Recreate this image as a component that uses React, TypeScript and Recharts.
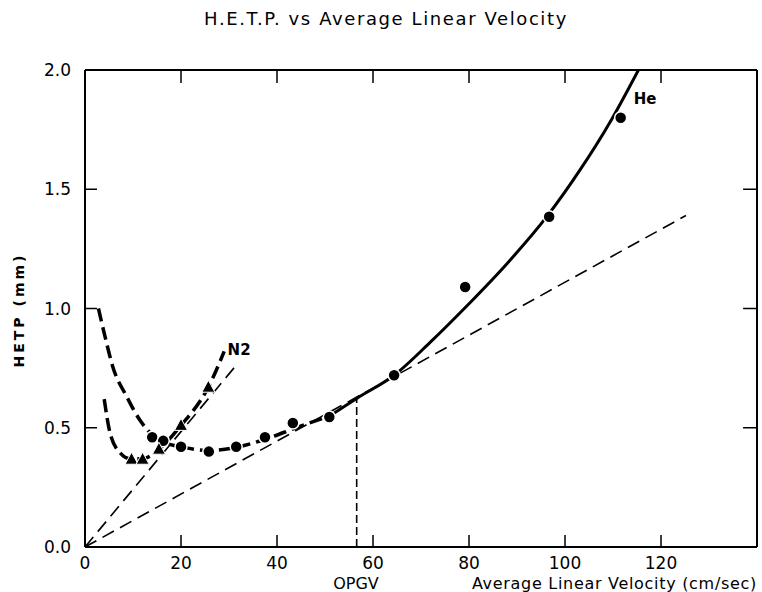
import React from 'react';
import { ComposedChart, Line, Scatter, XAxis, YAxis, ReferenceDot, ReferenceLine } from 'recharts';

const FONT = '"DejaVu Sans", Verdana, sans-serif';

const xTicks = [0, 20, 40, 60, 80, 100, 120];
const yTicks = [0, 0.5, 1.0, 1.5, 2.0];
const xMax = 140;
const yMax = 2;

// measured points
const heVelocity = [14, 16.3, 20, 25.8, 31.5, 37.5, 43.3, 50.9, 64.4, 79.2, 96.7, 111.6];
const heHetp = [0.46, 0.445, 0.42, 0.4, 0.42, 0.46, 0.52, 0.545, 0.72, 1.09, 1.385, 1.8];

const n2Velocity = [9.7, 12.0, 15.4, 20.0, 25.7];
const n2Hetp = [0.368, 0.368, 0.41, 0.51, 0.67];

// hand drawn curves
const heLowX = [2.8, 4.2, 5.8, 8.7, 11.5, 14, 17, 20, 26, 32, 38, 44, 51];
const heLowY = [1.0, 0.88, 0.755, 0.63, 0.53, 0.47, 0.435, 0.42, 0.405, 0.42, 0.455, 0.5, 0.55];
const heHighX = [51, 56.6, 64.4, 72, 80, 88, 96.2, 103.1, 109.8, 115.3];
const heHighY = [0.55, 0.623, 0.72, 0.86, 1.02, 1.19, 1.385, 1.58, 1.796, 2.0];

const n2CurveX = [4.0, 5.2, 7.3, 9.4, 12.0, 15.4, 20.0, 25.7, 29.0];
const n2CurveY = [0.62, 0.48, 0.395, 0.37, 0.37, 0.41, 0.51, 0.67, 0.82];

// straight construction lines
const n2AsymX = [0, 31.25];
const n2AsymY = [0, 0.756];
const heAsymX = [0, 125.2];
const heAsymY = [0, 1.39];
const opgvX = [56.6, 56.6];
const opgvY = [0, 0.623];

const zip = (xs: number[], ys: number[]) => xs.map((x, i) => ({ x, y: ys[i] }));

// inward tick lengths in data units (13px tall, 14px wide)
const topTickLen = 0.055;
const rightTickLen = 2.9;

const BottomTick = (p: any) => (
  <g>
    <line x1={p.x} x2={p.x} y1={p.y} y2={p.y - 12} stroke="#000" strokeWidth={1.5} />
    <text x={p.x} y={p.y + 22} textAnchor="middle" fontSize={17} fontFamily={FONT} fill="#000">
      {p.payload.value}
    </text>
  </g>
);

const LeftTick = (p: any) => {
  const v = p.payload.value;
  return (
    <g>
      {v > 0 && v < 2 && (
        <line x1={p.x} x2={p.x + 12} y1={p.y} y2={p.y} stroke="#000" strokeWidth={1.5} />
      )}
      <text x={p.x - 14} y={p.y + 6} textAnchor="end" fontSize={17} fontFamily={FONT} fill="#000">
        {v.toFixed(1)}
      </text>
    </g>
  );
};

const Dot = (p: any) => <circle cx={p.cx} cy={p.cy} r={6} fill="#000" stroke="#fff" strokeWidth={1.5} />;
const Tri = (p: any) => (
  <polygon
    points={`${p.cx},${p.cy - 7} ${p.cx - 6.5},${p.cy + 5} ${p.cx + 6.5},${p.cy + 5}`}
    fill="#000"
    stroke="#fff"
    strokeWidth={1}
  />
);

const axisStyle = { stroke: '#000', strokeWidth: 2 };

export default function App() {
  return (
    <div style={{ position: 'absolute', left: 0, top: 0, width: 762, height: 592, background: '#fff' }}>
      <ComposedChart width={762} height={592} margin={{ top: 70, right: 5, bottom: 0, left: 0 }}>
        <XAxis
          type="number"
          dataKey="x"
          domain={[0, xMax]}
          ticks={xTicks}
          interval={0}
          allowDataOverflow
          height={45}
          tickSize={0}
          tickMargin={0}
          tickLine={false}
          axisLine={axisStyle}
          tick={BottomTick}
        />
        <YAxis
          type="number"
          dataKey="y"
          domain={[0, yMax]}
          ticks={yTicks}
          interval={0}
          allowDataOverflow
          width={85}
          tickSize={0}
          tickMargin={0}
          tickLine={false}
          axisLine={axisStyle}
          tick={LeftTick}
        />

        {/* frame: top and right sides with inward ticks */}
        <ReferenceLine y={yMax} stroke="#000" strokeWidth={2} />
        <ReferenceLine x={xMax} stroke="#000" strokeWidth={2} />
        {xTicks.filter((t) => t > 0).map((t) => (
          <ReferenceLine
            key={`tt${t}`}
            segment={[{ x: t, y: yMax }, { x: t, y: yMax - topTickLen }]}
            stroke="#000"
            strokeWidth={1.5}
          />
        ))}
        {yTicks.filter((t) => t > 0 && t < yMax).map((t) => (
          <ReferenceLine
            key={`rt${t}`}
            segment={[{ x: xMax - rightTickLen, y: t }, { x: xMax, y: t }]}
            stroke="#000"
            strokeWidth={1.5}
          />
        ))}

        <Line data={zip(heAsymX, heAsymY)} dataKey="y" type="linear" stroke="#000" strokeWidth={1.6} strokeDasharray="13 7" dot={false} isAnimationActive={false} />
        <Line data={zip(n2AsymX, n2AsymY)} dataKey="y" type="linear" stroke="#000" strokeWidth={1.6} strokeDasharray="13 7" dot={false} isAnimationActive={false} />
        <Line data={zip(opgvX, opgvY)} dataKey="y" type="linear" stroke="#000" strokeWidth={1.6} strokeDasharray="8 4" dot={false} isAnimationActive={false} />

        <Line data={zip(n2CurveX, n2CurveY)} dataKey="y" type="monotone" stroke="#000" strokeWidth={3.5} strokeDasharray="13 6" dot={false} isAnimationActive={false} />
        <Line data={zip(heLowX, heLowY)} dataKey="y" type="monotone" stroke="#000" strokeWidth={3.5} strokeDasharray="13 6" dot={false} isAnimationActive={false} />
        <Line data={zip(heHighX, heHighY)} dataKey="y" type="monotone" stroke="#000" strokeWidth={3} dot={false} isAnimationActive={false} />

        <Scatter data={zip(heVelocity, heHetp)} dataKey="y" shape={Dot} isAnimationActive={false} />
        <Scatter data={zip(n2Velocity, n2Hetp)} dataKey="y" shape={Tri} isAnimationActive={false} />

        <ReferenceDot x={116.7} y={1.878} r={0} stroke="none" label={{ value: 'He', position: 'center', fontSize: 15, fontWeight: 'bold', fontFamily: FONT, fill: '#000' }} />
        <ReferenceDot x={32.1} y={0.826} r={0} stroke="none" label={{ value: 'N2', position: 'center', fontSize: 15, fontWeight: 'bold', fontFamily: FONT, fill: '#000' }} />
      </ComposedChart>

      <svg width={762} height={592} style={{ position: 'absolute', left: 0, top: 0, pointerEvents: 'none' }}>
        <text x={386} y={25} textAnchor="middle" fontSize={18} letterSpacing={1.6} fontFamily={FONT} fill="#000">
          H.E.T.P. vs Average Linear Velocity
        </text>
        <text
          transform="translate(24,310) rotate(-90)"
          textAnchor="middle"
          fontSize={14}
          fontWeight="bold"
          letterSpacing={3}
          fontFamily={FONT}
          fill="#000"
        >
          HETP (mm)
        </text>
        <text x={356} y={589} textAnchor="middle" fontSize={16} fontFamily={FONT} fill="#000">
          OPGV
        </text>
        <text x={757} y={589} textAnchor="end" fontSize={16} letterSpacing={0.7} fontFamily={FONT} fill="#000">
          Average Linear Velocity (cm/sec)
        </text>
      </svg>
    </div>
  );
}
